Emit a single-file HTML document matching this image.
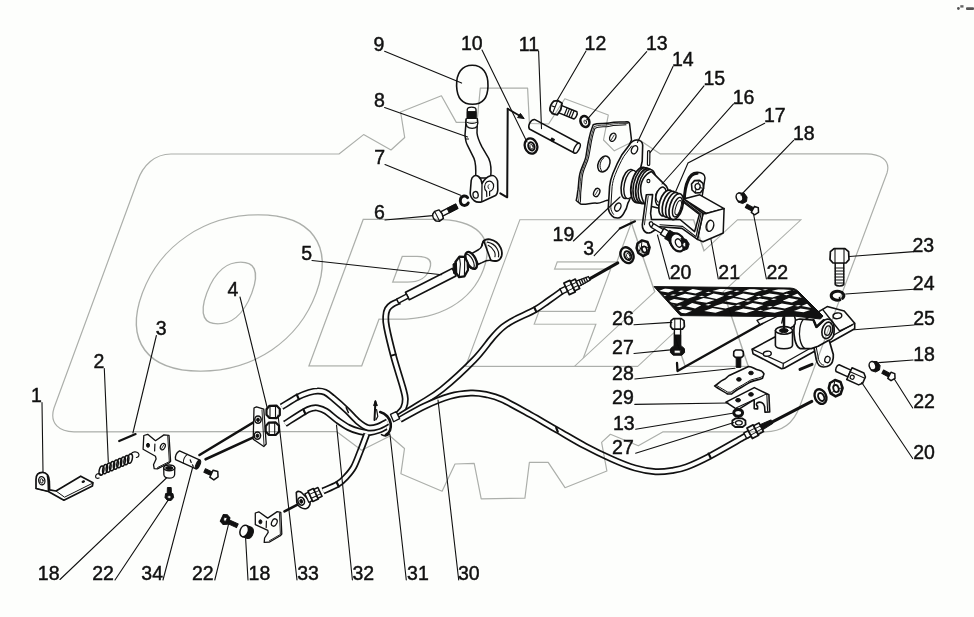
<!DOCTYPE html>
<html><head><meta charset="utf-8"><title>Parts diagram</title>
<style>
html,body{margin:0;padding:0;background:#fdfefc;}
svg{display:block;}
.t{font-family:"Liberation Sans",sans-serif;font-size:19.5px;fill:#111;stroke:#111;stroke-width:0.45px;}
.l{stroke:#111;stroke-width:1.1;fill:none;stroke-linecap:round;}
.p{stroke:#111;fill:#fdfefc;stroke-linejoin:round;stroke-linecap:round;}
.n{stroke:#111;fill:none;stroke-linejoin:round;stroke-linecap:round;}
.b{stroke:#111;stroke-width:1;fill:#111;stroke-linejoin:round;}
.to{stroke:#111;fill:none;stroke-linecap:butt;stroke-linejoin:round;}
.ti{stroke:#fdfefc;fill:none;stroke-linecap:butt;stroke-linejoin:round;}
.w{stroke:#aeb0ad;stroke-width:1.2;fill:none;stroke-linejoin:round;}
.wt{font-family:"DejaVu Sans","Liberation Sans",sans-serif;font-weight:bold;fill:none;}
</style></head><body>
<svg width="974" height="617" viewBox="0 0 974 617">
<rect width="974" height="617" fill="#fdfefc"/>
<g id="cables">
<path d="M284.9,423.8 C288.1,421.8 299.8,414.2 304.3,411.6 C308.8,409.0 309.8,408.9 312.0,408.3 C314.2,407.7 315.0,407.4 317.3,407.9 C319.6,408.4 322.7,409.2 326.0,411.3 C329.3,413.4 333.5,417.5 337.3,420.2 C341.1,422.9 344.8,425.6 348.6,427.5 C352.4,429.4 356.5,430.8 360.0,431.6 C363.5,432.4 366.5,432.7 369.7,432.4 C372.9,432.1 376.7,430.9 379.4,430.0 C382.1,429.1 384.9,427.2 386.0,426.7" class="to" stroke-width="7.0"/><path d="M284.9,423.8 C288.1,421.8 299.8,414.2 304.3,411.6 C308.8,409.0 309.8,408.9 312.0,408.3 C314.2,407.7 315.0,407.4 317.3,407.9 C319.6,408.4 322.7,409.2 326.0,411.3 C329.3,413.4 333.5,417.5 337.3,420.2 C341.1,422.9 344.8,425.6 348.6,427.5 C352.4,429.4 356.5,430.8 360.0,431.6 C363.5,432.4 366.5,432.7 369.7,432.4 C372.9,432.1 376.7,430.9 379.4,430.0 C382.1,429.1 384.9,427.2 386.0,426.7" class="ti" stroke-width="3.6"/>
<path d="M281.6,406.8 C284.3,405.2 293.2,399.4 297.8,397.0 C302.4,394.6 305.8,393.5 309.0,392.5 C312.2,391.5 314.6,390.9 317.3,390.9 C320.0,390.8 322.5,391.1 325.0,392.2 C327.5,393.3 328.7,394.4 332.4,397.5 C336.1,400.6 342.7,406.4 347.0,410.5 C351.3,414.6 354.8,419.0 358.3,421.9 C361.8,424.8 364.8,427.0 368.0,427.8 C371.2,428.6 374.6,427.7 377.8,426.7 C381.1,425.7 385.9,422.7 387.5,421.9" class="to" stroke-width="7.0"/><path d="M281.6,406.8 C284.3,405.2 293.2,399.4 297.8,397.0 C302.4,394.6 305.8,393.5 309.0,392.5 C312.2,391.5 314.6,390.9 317.3,390.9 C320.0,390.8 322.5,391.1 325.0,392.2 C327.5,393.3 328.7,394.4 332.4,397.5 C336.1,400.6 342.7,406.4 347.0,410.5 C351.3,414.6 354.8,419.0 358.3,421.9 C361.8,424.8 364.8,427.0 368.0,427.8 C371.2,428.6 374.6,427.7 377.8,426.7 C381.1,425.7 385.9,422.7 387.5,421.9" class="ti" stroke-width="3.6"/>
<path d="M366.8,434.0 C365.7,437.0 362.2,446.5 360.0,452.0 C357.8,457.5 356.0,462.8 353.7,467.0 C351.4,471.2 348.7,474.1 346.0,477.0 C343.3,479.9 341.4,482.0 337.6,484.3 C333.8,486.6 325.4,489.9 323.0,491.0" class="to" stroke-width="7.0"/><path d="M366.8,434.0 C365.7,437.0 362.2,446.5 360.0,452.0 C357.8,457.5 356.0,462.8 353.7,467.0 C351.4,471.2 348.7,474.1 346.0,477.0 C343.3,479.9 341.4,482.0 337.6,484.3 C333.8,486.6 325.4,489.9 323.0,491.0" class="ti" stroke-width="3.6"/>
<path d="M399.5,301.0 C398.2,301.6 394.0,303.2 392.0,304.5 C390.0,305.8 388.5,307.1 387.5,309.0 C386.5,310.9 385.9,313.0 385.8,316.0 C385.7,319.0 385.3,320.3 386.6,327.0 C387.9,333.7 390.9,346.2 393.6,356.4 C396.3,366.6 401.1,380.9 403.0,388.0 C404.9,395.1 405.2,395.7 405.3,399.0 C405.4,402.3 404.6,405.5 403.5,408.0 C402.4,410.5 399.3,413.0 398.5,414.0" class="to" stroke-width="7.0"/><path d="M399.5,301.0 C398.2,301.6 394.0,303.2 392.0,304.5 C390.0,305.8 388.5,307.1 387.5,309.0 C386.5,310.9 385.9,313.0 385.8,316.0 C385.7,319.0 385.3,320.3 386.6,327.0 C387.9,333.7 390.9,346.2 393.6,356.4 C396.3,366.6 401.1,380.9 403.0,388.0 C404.9,395.1 405.2,395.7 405.3,399.0 C405.4,402.3 404.6,405.5 403.5,408.0 C402.4,410.5 399.3,413.0 398.5,414.0" class="ti" stroke-width="3.6"/>
<path d="M398.5,417.0 C402.1,414.8 412.8,408.6 420.0,404.0 C427.2,399.4 433.0,396.7 442.0,389.4 C451.0,382.1 465.6,368.6 474.0,360.0 C482.4,351.4 487.7,343.1 492.5,337.6 C497.3,332.1 499.4,329.9 503.0,327.0 C506.6,324.1 508.6,322.9 514.0,320.0 C519.4,317.1 529.6,312.8 535.3,309.6 C541.0,306.4 543.5,304.1 548.0,301.0 C552.5,297.9 559.7,292.7 562.0,291.0" class="to" stroke-width="7.0"/><path d="M398.5,417.0 C402.1,414.8 412.8,408.6 420.0,404.0 C427.2,399.4 433.0,396.7 442.0,389.4 C451.0,382.1 465.6,368.6 474.0,360.0 C482.4,351.4 487.7,343.1 492.5,337.6 C497.3,332.1 499.4,329.9 503.0,327.0 C506.6,324.1 508.6,322.9 514.0,320.0 C519.4,317.1 529.6,312.8 535.3,309.6 C541.0,306.4 543.5,304.1 548.0,301.0 C552.5,297.9 559.7,292.7 562.0,291.0" class="ti" stroke-width="3.6"/>
<path d="M400.0,419.5 C404.2,417.2 416.7,409.9 425.0,406.0 C433.3,402.1 442.4,398.4 450.0,396.2 C457.6,394.0 464.8,393.3 470.8,393.0 C476.8,392.7 480.9,393.4 486.0,394.5 C491.1,395.6 494.3,396.0 501.6,399.3 C508.9,402.6 520.8,409.4 530.0,414.5 C539.2,419.6 547.8,424.8 557.0,430.0 C566.2,435.2 575.8,441.1 585.0,446.0 C594.2,450.9 604.2,455.7 612.5,459.4 C620.8,463.1 627.8,465.9 635.0,468.0 C642.2,470.1 649.4,471.3 655.6,471.7 C661.8,472.1 666.9,471.3 672.0,470.5 C677.1,469.7 680.1,469.4 686.4,467.0 C692.6,464.6 700.1,461.2 709.5,456.3 C718.9,451.4 735.4,441.8 742.5,437.8 C749.6,433.8 750.4,433.4 752.0,432.5" class="to" stroke-width="7.0"/><path d="M400.0,419.5 C404.2,417.2 416.7,409.9 425.0,406.0 C433.3,402.1 442.4,398.4 450.0,396.2 C457.6,394.0 464.8,393.3 470.8,393.0 C476.8,392.7 480.9,393.4 486.0,394.5 C491.1,395.6 494.3,396.0 501.6,399.3 C508.9,402.6 520.8,409.4 530.0,414.5 C539.2,419.6 547.8,424.8 557.0,430.0 C566.2,435.2 575.8,441.1 585.0,446.0 C594.2,450.9 604.2,455.7 612.5,459.4 C620.8,463.1 627.8,465.9 635.0,468.0 C642.2,470.1 649.4,471.3 655.6,471.7 C661.8,472.1 666.9,471.3 672.0,470.5 C677.1,469.7 680.1,469.4 686.4,467.0 C692.6,464.6 700.1,461.2 709.5,456.3 C718.9,451.4 735.4,441.8 742.5,437.8 C749.6,433.8 750.4,433.4 752.0,432.5" class="ti" stroke-width="3.6"/>
</g>
<g id="parts">
<path d="M36,488.5 L36,479.5 C36,474.5 39,472.3 42.5,472.3 C46.5,472.3 49.3,476 49.3,481 L49.6,489.8 L56,491 L80.7,476.2 L93,482.7 L92.4,486 L63.9,500.2 L48.3,491.5 Z" class="p" stroke-width="1.70"/>
<path d="M47.6,476 C48.3,478 48.5,482 48.6,490.5" class="n" stroke-width="2.00"/>
<path d="M56,491 L64.5,497.2 L92.6,483.2" class="n" stroke-width="1.00"/>
<path d="M36,488.5 L48.3,491.5" class="n" stroke-width="1.00"/>
<ellipse cx="41.8" cy="480.7" rx="3.1" ry="4.1" class="p" transform="rotate(-10 41.8 480.7)"  stroke-width="1.30"/>
<ellipse cx="41.6" cy="480.9" rx="1.5" ry="2.3" class="n" transform="rotate(-10 41.6 480.9)" stroke-width="0.90"/>
<ellipse cx="83.3" cy="481.6" rx="1.3" ry="0.8" class="b" transform="rotate(-20 83.3 481.6)" />
<ellipse cx="101.5" cy="470.6" rx="2.3" ry="4.7" class="n" transform="rotate(12 101.5 470.6)" stroke-width="1.50"/>
<ellipse cx="105.1" cy="469.1" rx="2.3" ry="4.7" class="n" transform="rotate(12 105.1 469.1)" stroke-width="1.50"/>
<ellipse cx="108.6" cy="467.6" rx="2.3" ry="4.7" class="n" transform="rotate(12 108.6 467.6)" stroke-width="1.50"/>
<ellipse cx="112.2" cy="466.1" rx="2.3" ry="4.7" class="n" transform="rotate(12 112.2 466.1)" stroke-width="1.50"/>
<ellipse cx="115.8" cy="464.6" rx="2.3" ry="4.7" class="n" transform="rotate(12 115.8 464.6)" stroke-width="1.50"/>
<ellipse cx="119.3" cy="463.1" rx="2.3" ry="4.7" class="n" transform="rotate(12 119.3 463.1)" stroke-width="1.50"/>
<ellipse cx="122.9" cy="461.6" rx="2.3" ry="4.7" class="n" transform="rotate(12 122.9 461.6)" stroke-width="1.50"/>
<ellipse cx="126.4" cy="460.1" rx="2.3" ry="4.7" class="n" transform="rotate(12 126.4 460.1)" stroke-width="1.50"/>
<ellipse cx="130.0" cy="458.6" rx="2.3" ry="4.7" class="n" transform="rotate(12 130.0 458.6)" stroke-width="1.50"/>
<path d="M101,474.5 C98,472.5 95.3,474.5 95.6,476.8 C96,478.5 97.8,478.6 99,478" class="n" stroke-width="1.20"/>
<path d="M131,454 C132.5,451.5 136.5,451 138.3,453.2 C139.8,455.2 138.6,457.2 136.4,457.5" class="n" stroke-width="1.20"/>
<line x1="119.2" y1="441.1" x2="135.6" y2="434.1" stroke="#111" stroke-width="2.2" stroke-linecap="round" />
<path d="M143.8,435.5 L147.7,434.3 L155.5,440.7 L163.9,434.9 L169,435.3 L170.6,461.3 L169,463 L157.4,468.8 L154.2,468.6 L153.5,464.7 L156.1,458.9 L155.5,456.3 L143.1,449.2 Z" class="p"  stroke-width="1.30"/>
<path d="M167.7,436 L169.3,461.6 L157.6,467.5" class="n" stroke-width="0.90"/>
<line x1="154.9" y1="444" x2="154.6" y2="451" stroke="#111" stroke-width="1.2" stroke-linecap="round" />
<ellipse cx="148" cy="445.3" rx="1.5" ry="2" class="b" />
<ellipse cx="162.8" cy="446.6" rx="2.3" ry="3.4" class="n" transform="rotate(25 162.8 446.6)" stroke-width="1.20"/>
<line x1="161.6" y1="448.6" x2="164" y2="444.6" stroke="#111" stroke-width="0.8" stroke-linecap="round" />
<path d="M163.7,467.8 L163.9,475 C164.5,479 173.8,479.2 174.6,475 L174.8,467.8 Z" class="p"  stroke-width="1.30"/>
<ellipse cx="169.2" cy="467.8" rx="5.5" ry="2.9" class="p" stroke-width="1.50"/>
<ellipse cx="169.2" cy="468" rx="3.6" ry="1.5" class="b" />
<path d="M167.4,487.5 L171.2,487.5 L171.4,494 L167.2,494 Z" class="b" />
<path d="M165.6,493.6 L172.9,493.6 L173.6,497.5 L171.2,500.4 L167.4,500.4 L165,497.5 Z" class="b" />
<ellipse cx="169.3" cy="497" rx="1.8" ry="1.3" class="p" stroke-width="0.60"/>
<g transform="rotate(24.4 188 460)">
<path d="M176.5,455.2 L199,455.2 L199,464.8 L176.5,464.8 C174.6,462 174.6,458 176.5,455.2 Z" class="p"  stroke-width="1.30"/>
<ellipse cx="199" cy="460" rx="1.9" ry="4.8" class="b" />
<path d="M185,455.2 C183.6,458 183.6,462 185,464.8" class="n" stroke-width="1.00"/>
<path d="M190,459 L192,461 M194,462.5 L195.4,463.6" class="n" stroke-width="1.20"/>
</g>
<line x1="199.5" y1="455" x2="256" y2="420.8" stroke="#111" stroke-width="2.6" stroke-linecap="round" />
<line x1="205.6" y1="459.3" x2="255.5" y2="436.4" stroke="#111" stroke-width="2.6" stroke-linecap="round" />
<g transform="rotate(25 211 473.5)">
<path d="M204,471.6 L212,471.6 L212,475.4 L204,475.4 Z" class="b" />
<path d="M211.5,469.6 L216.3,468.9 L218.8,473.5 L216.3,478.1 L211.5,477.4 Z" class="p" stroke-width="1.50"/>
</g>
<path d="M254,408 L256.5,406.8 L263.8,409.2 L266.2,444 L263.8,446.5 L253.2,439.2 Z" class="p"  stroke-width="1.30"/>
<path d="M262,410 L264,445" class="n" stroke-width="0.90"/>
<ellipse cx="258" cy="419.6" rx="3.2" ry="3.6" class="p" stroke-width="1.50"/>
<ellipse cx="258" cy="419.8" rx="1.4" ry="1.7" class="b" />
<ellipse cx="257.4" cy="435.6" rx="3.2" ry="3.6" class="p" stroke-width="1.50"/>
<ellipse cx="257.4" cy="435.8" rx="1.4" ry="1.7" class="b" />
<path d="M266.5,409.3 L269.5,405.8 L276.5,405.6 L279.8,409.0 L279.8,415.0 L276.5,418.2 L269.5,418.0 L266.5,414.8 Z" class="p" stroke-width="2.20"/>
<path d="M270,406.3 L270,417.6 M275.5,406.0 L275.5,417.8" class="n" stroke-width="1.10"/>
<path d="M265.7,426.1 L268.7,422.6 L275.7,422.40000000000003 L279.0,425.8 L279.0,431.8 L275.7,435.0 L268.7,434.8 L265.7,431.6 Z" class="p" stroke-width="2.20"/>
<path d="M269.2,423.1 L269.2,434.40000000000003 M274.7,422.8 L274.7,434.6" class="n" stroke-width="1.10"/>
<path d="M255.3,513 L258.8,511.8 L267.7,518.1 L277.2,511.6 L280.8,512.3 L281.8,534 L280.3,535.8 L269.2,542.2 L264.2,542.4 L264.6,538 L268.2,532.4 L267.8,530.4 L255.3,524.7 Z" class="p"  stroke-width="1.30"/>
<path d="M279.4,513 L280.4,534.4 L269.4,540.8" class="n" stroke-width="0.90"/>
<line x1="266.4" y1="521" x2="266.2" y2="527.6" stroke="#111" stroke-width="1.2" stroke-linecap="round" />
<ellipse cx="260.4" cy="521.8" rx="1.5" ry="2" class="b" />
<ellipse cx="274.3" cy="522.5" rx="2.6" ry="3.8" class="n" transform="rotate(25 274.3 522.5)" stroke-width="1.30"/>
<g transform="rotate(20 247 532)">
<path d="M244,526 L249.5,526 C254.5,527 254.5,537 249.5,538 L244,538 Z" class="b" />
<ellipse cx="244" cy="532" rx="4" ry="6" class="p" stroke-width="1.50"/>
</g>
<g transform="rotate(25 228 521)">
<path d="M227,519.4 L238.5,519.4 L238.5,523.4 L227,523.4 Z" class="b" />
<path d="M221,517.2 L224.5,515.6 L228.5,517.4 L229,524 L225,526.2 L221,524.4 Z" class="b" />
<ellipse cx="224.8" cy="520.6" rx="1.6" ry="2" class="p" stroke-width="0.80"/>
</g>
<line x1="284.5" y1="511.4" x2="298" y2="504.4" stroke="#111" stroke-width="2.6" stroke-linecap="round" />
<path d="M296.3,492.5 C298,490.6 300.5,491.5 302,493 L309.5,500.5 C311,503.5 309.5,507.5 306.5,508.5 C302.5,509.5 298,506.5 296.8,502.5 Z" class="p" stroke-width="1.60"/>
<ellipse cx="301.2" cy="501.2" rx="3.2" ry="4" class="p" transform="rotate(-20 301.2 501.2)" stroke-width="1.60"/>
<ellipse cx="301.2" cy="501.4" rx="1.3" ry="1.8" class="b" transform="rotate(-20 301.2 501.4)" />
<g transform="rotate(-25 314 494.5)">
<path d="M306,490 L310,490 L310,499.4 L306,499.4 Z" class="p" stroke-width="1.40"/>
<path d="M310,488.8 L316,488.8 L316,500.4 L310,500.4 Z" class="p" stroke-width="1.60"/>
<path d="M316,489.8 L320.5,489.8 L320.5,499.6 L316,499.6 Z" class="p" stroke-width="1.60"/>
<path d="M310,492.5 L316,492.5 M310,496.8 L316,496.8 M316,493 L320.5,493 M316,496.6 L320.5,496.6" class="n" stroke-width="0.90"/>
</g>
<path d="M456.6,86 C456.2,73 462,65.3 472.2,65.3 C482.5,65.3 488.3,73 488,86 C487.8,98 483.5,104.3 472.5,104.3 C461.5,104.3 457,98 456.6,86 Z" class="p" stroke-width="1.60"/>
<path d="M466.3,119 L465,135 C465.5,141 466.5,143.5 467.3,144.8 L474,158.4 C475.5,162 476.3,166 475.6,178 L490.6,178 C491.5,170 490.8,163 488.7,158.4 L481.8,146.7 C479,141 477.4,137 477,133 L477.3,119 Z" class="p" stroke-width="1.50"/>
<path d="M467.3,118.6 L467.3,109.5 C467.5,106.3 475.8,106.3 476,109.5 L476,118.6 Z" class="p" stroke-width="1.40"/>
<path d="M467.3,111.6 L476,111.6 L476,118.4 L467.3,118.4 Z" class="b" />
<path d="M466.2,119 C465.6,122 466,125 467,126.5 C469.5,129 475,129 477,126.5 C478,124.5 478,121.5 477.4,119" class="p" stroke-width="1.40"/>
<path d="M467.3,122.5 C470,124 474,124 476.6,122.5" class="n" stroke-width="0.90"/>
<line x1="466.2" y1="139" x2="468.6" y2="139" stroke="#111" stroke-width="1" stroke-linecap="round" />
<path d="M471.2,180.5 C471.8,176.5 475,174.2 478.5,176.5 C480.5,178 481.5,180.5 482,183.5 C484,180 487,176.8 490.5,175.8 C493.5,175 496.5,177 497.6,181 L497.8,190 C497.5,193.5 496.5,195 495.5,195.6 L482.5,201.4 C479.5,202.6 476.5,202.4 474,200.5 C471.3,198.2 470.2,195.5 470.2,193 Z" class="p" stroke-width="1.60"/>
<path d="M482,183.5 L481.8,201.2" class="n" stroke-width="1.30"/>
<ellipse cx="475.6" cy="194.8" rx="2.6" ry="3.3" class="n" transform="rotate(-10 475.6 194.8)" stroke-width="1.30"/>
<path d="M486.8,196.5 L486.6,191.5 C483.8,189.5 483.8,184 487,181.8 C490.5,179.8 494,182.5 493.6,186.5 C493.2,189.5 491,191 489.6,191.3 L489.6,195.6" class="n" stroke-width="1.20"/>
<path d="M489,184.5 C487.5,185.5 487.5,188 489,189" class="n" stroke-width="0.90"/>
<path d="M467.6,197.6 C465.8,195 461.8,195.4 460.6,198.8 C459.4,202.4 461.4,205.4 464.4,205.4 C466.2,205.4 467.6,204.4 468.2,203" class="n" stroke-width="3.00"/>
<g transform="rotate(-27 438 215.8)">
<path d="M442,213.4 L459,213.4 L459,218.2 L442,218.2 Z" class="p" stroke-width="1.30"/>
<path d="M449.5,213.4 L459,213.4 L459,218.2 L449.5,218.2 Z" class="b" />
<path d="M434,212 L437,210.3 L441.6,211 L442.6,215.8 L441.6,220.6 L437,221.3 L434,219.6 C432.6,217.5 432.6,214 434,212 Z" class="p" stroke-width="1.50"/>
<path d="M437,210.5 L437,221.2" class="n" stroke-width="1.00"/>
</g>
<path d="M500.3,193.3 L507.2,197.3 L507.7,108.8" class="n" stroke-width="2.00"/>
<path d="M507.7,108.8 L520.5,116.3" class="n" stroke-width="1.80"/>
<path d="M524.2,118.6 L517.6,117.6 L520.4,113.4 Z" class="b" />
<ellipse cx="531" cy="146" rx="6.2" ry="7.8" class="p" transform="rotate(-20 531 146)" stroke-width="2.30"/>
<ellipse cx="531.4" cy="146.4" rx="3" ry="4.2" class="p" transform="rotate(-20 531.4 146.4)" stroke-width="2.00"/>
<ellipse cx="531.6" cy="146.8" rx="1.5" ry="2.4" class="n" transform="rotate(-20 531.6 146.8)" stroke-width="0.80" stroke="#777"/>
<g transform="rotate(28.1 554 136)">
<path d="M529,130.6 L580,130.6 L580,141.4 L529,141.4 C525.6,139.5 525.6,132.5 529,130.6 Z" class="p" stroke-width="1.50"/>
<ellipse cx="580" cy="136" rx="2.4" ry="5.4" class="p" stroke-width="1.40"/>
<path d="M553,138.8 L556,138.8 L556,141.4 L553,141.4 Z" class="b" />
</g>
<g transform="rotate(22 556 107.5)">
<path d="M560,103.6 L577,103.6 C578.6,105 578.6,110 577,111.4 L560,111.4 Z" class="p" stroke-width="1.50"/>
<path d="M566.5,104 L566.5,111 M569,104 L569,111 M571.5,104 L571.5,111 M574,104 L574,111" class="n" stroke-width="1.20"/>
<path d="M551.5,102.5 L555,100.4 L560,101.2 L561.2,107.5 L560,113.8 L555,114.6 L551.5,112.5 C550,110 550,105 551.5,102.5 Z" class="p" stroke-width="1.80"/>
<path d="M555,100.8 L555,114.4 M551.8,107.5 L555,107.5" class="n" stroke-width="1.10"/>
</g>
<ellipse cx="584.9" cy="121.5" rx="4.3" ry="5.6" class="p" transform="rotate(-20 584.9 121.5)" stroke-width="2.60"/>
<ellipse cx="585.3" cy="122" rx="1.2" ry="2" class="n" transform="rotate(-20 585.3 122)" stroke-width="0.80"/>
<path d="M593.2,124.8 C598,122.5 604,124.2 609.2,123 C616,121.4 622,122.6 627,121.8 C629,122 629.7,123.4 629.7,124.8 L631.5,140 L628.8,146 L609,200 L606.5,200.4 C602,202 599,203.6 596.7,203.2 C591,202.6 586,205 580.7,204.1 L576.2,200.5 C577.6,196 577.2,193 578,189.9 C578.8,184 578.6,179 579.8,173.8 C581.5,167 585,162 586,156 C587,150 587.6,145 588.7,140 C589.8,134 591.5,129 593.2,124.8 Z" class="p" stroke-width="1.50"/>
<path d="M626,124.8 C620,125.8 615,124.6 609.5,126.2 C604,127.4 599,126 595,128.4 C593.5,132 592.3,137 591.4,141.7 C590.4,147 589.8,152 588.7,156.9 C587.6,162.5 584,168 582.8,173.8 C581.6,179 581.8,184.5 581,189.9 C580.4,194 580.8,198 580.3,202.3" class="n" stroke-width="1.10"/>
<path d="M627.6,123.4 C621,124 615.5,123 609.4,124.6 C604,125.8 598.6,124.4 594.2,126.6 C592.5,131 591.2,136 590.1,141 C589.1,146.5 588.6,151.5 587.4,156.6 C586.3,162 582.8,167.5 581.4,173.8 C580.2,179 580.4,184.2 579.6,189.9 C579,194 579.4,197.6 578.4,201.6" class="n" stroke-width="0.80"/>
<ellipse cx="612.8" cy="137.3" rx="2.9" ry="4.3" class="n" transform="rotate(25 612.8 137.3)" stroke-width="1.40"/>
<line x1="611.4" y1="139.6" x2="614.2" y2="135" stroke="#111" stroke-width="0.8" stroke-linecap="round" />
<ellipse cx="603.9" cy="164" rx="5.6" ry="8.3" class="n" transform="rotate(25 603.9 164)" stroke-width="1.50"/>
<path d="M601.6,170.6 C598.6,167 600,160.5 604,157.6" class="n" stroke-width="1.00"/>
<ellipse cx="596.7" cy="192.5" rx="2.8" ry="4.3" class="n" transform="rotate(25 596.7 192.5)" stroke-width="1.40"/>
<line x1="595.4" y1="194.6" x2="598" y2="190.2" stroke="#111" stroke-width="0.8" stroke-linecap="round" />
<path d="M629.7,144.4 C631.5,141.5 634,140 636.8,140 C640,140 642.5,142 642.7,145 L642.2,161.3 L640.4,169 L629,201 L627.9,203.2 C627,207.5 626,210 624.4,212.1 C622.5,216 620.5,218 618.1,218 C615,218.2 613,217.2 611.9,215.7 C609.5,213.2 608.4,210.5 608.3,207.7 L609.6,186.3 C610.2,181.8 611.3,177.5 612.8,173.8 C615.5,167 618.5,160.5 621.7,155.1 Z" class="p" stroke-width="1.60"/>
<path d="M631.6,146 L623.8,156.4 C620.6,162 617.8,168 615.2,174.6 C613.6,178.5 612.6,182.5 612.1,186.6 L610.8,207.4 C610.9,210 611.8,212.3 613.6,214.4" class="n" stroke-width="1.00"/>
<ellipse cx="634.5" cy="149.8" rx="2.9" ry="4.3" class="n" transform="rotate(25 634.5 149.8)" stroke-width="1.40"/>
<ellipse cx="617.8" cy="207.1" rx="2.9" ry="4.3" class="n" transform="rotate(25 617.8 207.1)" stroke-width="1.40"/>
<path d="M647.6,151.6 C647.6,150.2 649.9,150.2 649.9,151.6 L649.7,164.4 C649.7,165.8 647.4,165.8 647.4,164.4 Z" class="p" stroke-width="1.20"/>
<ellipse cx="628" cy="184" rx="6.4" ry="14.8" class="p" transform="rotate(12 628 184)" stroke-width="1.60"/>
<ellipse cx="630.6" cy="184.5" rx="6.2" ry="14.4" class="p" transform="rotate(12 630.6 184.5)" stroke-width="1.40"/>
<ellipse cx="640" cy="185" rx="8.6" ry="18" class="p" transform="rotate(12 640 185)" stroke-width="1.80"/>
<ellipse cx="642.2" cy="185.4" rx="8.6" ry="18" class="p" transform="rotate(12 642.2 185.4)" stroke-width="1.50"/>
<ellipse cx="644.8" cy="186" rx="8.6" ry="17.8" class="p" transform="rotate(12 644.8 186)" stroke-width="1.80"/>
<ellipse cx="647" cy="186.5" rx="8.4" ry="17.4" class="p" transform="rotate(12 647 186.5)" stroke-width="1.50"/>
<path d="M651.4,171.4 C645,174 639.4,182 640.8,192 C641.6,198 643,202 645.4,205 L660,208.5 L666,202.5 C669,197 669,189.5 666.3,186.1 Z" class="p" stroke-width="1.60"/>
<ellipse cx="660.8" cy="196.2" rx="4.8" ry="9.4" class="p" transform="rotate(17 660.8 196.2)" stroke-width="1.50"/>
<path d="M658.2,202.2 C655,199.5 655,194 657.4,191" class="n" stroke-width="1.10"/>
<ellipse cx="648.4" cy="181.1" rx="1.5" ry="1.7" class="n" stroke-width="1.10"/>
<path d="M683.6,199 C684,191 685,185 686.9,181 C689,175.5 693,172 697.4,172.2 C702,172.4 705.2,174.5 705,178 L702.3,195.5 Z" class="p" stroke-width="1.50"/>
<path d="M684.6,199 C685,191 686.2,185.5 688,181.5 C690,176.5 693.5,173.6 697.4,173.6" class="n" stroke-width="2.40"/>
<path d="M691.5,184 L694.5,180.6 L699.5,180.4 L703,183.4 L703.6,188.6 L700.6,192.6 L695.4,193 L692,190 Z" class="p" stroke-width="1.60"/>
<ellipse cx="697.6" cy="186.6" rx="2.6" ry="3" class="p" stroke-width="1.30"/>
<path d="M697.6,183.6 L699.6,180.6 M700,187.6 L703.4,188.4 M696,189.4 L695.4,192.8" class="n" stroke-width="1.00"/>
<path d="M683.6,198.9 L699.8,194.8 L724.1,208.6 L706.3,213.5 Z" class="p" stroke-width="1.50"/>
<path d="M706.3,213.5 L724.1,208.6 L723.2,233 L719.3,234.8 L703,241.8 L697.4,239.4 L703,213.5 Z" class="p" stroke-width="1.50"/>
<ellipse cx="709.9" cy="225.8" rx="3.7" ry="5.6" class="p" transform="rotate(15 709.9 225.8)" stroke-width="1.40"/>
<path d="M707.6,229.6 C706,226.5 707,222.5 709.6,220.6" class="n" stroke-width="0.90"/>
<path d="M683.6,198.9 L703,213.5 L697.4,239.4 L682,228.4 L660,226.8 L651,232.5 C648,233.5 645,232.5 643.6,230 C642.4,228 642.2,226.5 642.3,224.8 L646.3,194.8 L652.6,194.6 L650.6,213.5 L651.5,219.5 L680,219.5 L694.6,231.6 L699.4,214.4 L681.5,200.6 Z" class="p" stroke-width="1.60"/>
<path d="M684.2,201.2 L701,214.2 L696,236.6 L682.6,226.4 L660,224.8" class="n" stroke-width="1.10"/>
<path d="M644.4,224.8 L648.2,196.4" class="n" stroke-width="0.90"/>
<path d="M706.3,213.5 L703,213.5" class="n"  stroke-width="1.30"/>
<ellipse cx="666" cy="203" rx="6.4" ry="13.4" class="p" transform="rotate(17 666 203)" stroke-width="1.70"/>
<ellipse cx="669.4" cy="204.2" rx="6.4" ry="13.4" class="p" transform="rotate(17 669.4 204.2)" stroke-width="1.70"/>
<ellipse cx="672.8" cy="205.4" rx="6.4" ry="13.4" class="p" transform="rotate(17 672.8 205.4)" stroke-width="1.70"/>
<ellipse cx="676.2" cy="206.6" rx="6.4" ry="13.4" class="p" transform="rotate(17 676.2 206.6)" stroke-width="1.70"/>
<ellipse cx="677.4" cy="207.2" rx="4.2" ry="10.2" class="p" transform="rotate(17 677.4 207.2)" stroke-width="1.40"/>
<ellipse cx="678.2" cy="207.6" rx="2.4" ry="7.4" class="n" transform="rotate(17 678.2 207.6)" stroke-width="1.00"/>
<ellipse cx="651.4" cy="224.4" rx="1.9" ry="2.8" class="p" transform="rotate(-20 651.4 224.4)" stroke-width="1.30"/>
<g transform="rotate(31 652 225)">
<path d="M652.6,223 L666,223 L666,227.4 L652.6,227.4 Z" class="p" stroke-width="1.30"/>
<path d="M664,221.8 L670,221.8 L670,228.6 L664,228.6 Z" class="p" stroke-width="1.40"/>
<path d="M670,220.4 L677,220.4 L677,230 L670,230 Z" class="b" />
</g>
<ellipse cx="674.6" cy="240.6" rx="5.6" ry="8.6" class="b" transform="rotate(-25 674.6 240.6)" />
<ellipse cx="677.6" cy="242.4" rx="6.8" ry="9.4" class="p" transform="rotate(-25 677.6 242.4)" stroke-width="2.20"/>
<ellipse cx="678.6" cy="243" rx="3" ry="4.4" class="p" transform="rotate(-25 678.6 243)" stroke-width="1.40"/>
<path d="M681,238 L686.4,239.6 L689.2,244 L687.6,249 L683.4,250.6 Z" class="b" />
<ellipse cx="684.4" cy="244.6" rx="1.6" ry="2.2" class="p" stroke-width="0.80"/>
<line x1="619.8" y1="228.4" x2="635" y2="221.3" stroke="#111" stroke-width="2.2" stroke-linecap="round" />
<path d="M637.5,243.5 L642,240.4 L647.5,242 L649.6,247.5 L648,253.6 L643,256 L638.4,253 L636.6,248 Z" class="p" stroke-width="2.50"/>
<path d="M642,240.6 L641.4,246.6 L638.4,252.8 M641.4,246.6 L649.4,247.6" class="n" stroke-width="1.00"/>
<ellipse cx="644.4" cy="249.6" rx="2.4" ry="3.2" class="p" transform="rotate(-20 644.4 249.6)" stroke-width="1.80"/>
<ellipse cx="627" cy="255.2" rx="6.2" ry="8.2" class="p" transform="rotate(-25 627 255.2)" stroke-width="2.40"/>
<ellipse cx="627.8" cy="255.6" rx="3.2" ry="4.6" class="p" transform="rotate(-25 627.8 255.6)" stroke-width="2.00"/>
<ellipse cx="628.2" cy="256" rx="1.6" ry="2.8" class="n" transform="rotate(-25 628.2 256)" stroke-width="0.80" stroke="#666"/>
<path d="M738.3,192.9 L744.1,193.1 L747.1,197.1 L746.5,201.5 L742.7,203.5 L738.1,202.1 Z" class="b" />
<ellipse cx="739.5" cy="197.3" rx="3.3" ry="4.3" class="p" transform="rotate(-15 739.5 197.3)" stroke-width="1.50"/>
<g transform="rotate(28 755 210.5)">
<path d="M745,208.6 L753,208.6 L753,212.4 L745,212.4 Z" class="b" />
<path d="M752.6,207.1 L756.6,206.5 L759,210.5 L756.6,214.5 L752.6,213.9 Z" class="p" stroke-width="1.50"/>
</g>
<path d="M752.1,349.2 L775.3,336.7 L822.6,309.4 L827.2,306.6 L844.2,311.1 L854.7,323.3 L854.7,328.7 L784.2,368.2 L781.6,368.8 L753,353.7 Z" class="p" stroke-width="1.60"/>
<path d="M752.1,349.2 L783.3,363.5 L854.7,323.3 M783.3,363.5 L783,368.4" class="n" stroke-width="1.30"/>
<path d="M822.6,309.4 L832.9,322.5 L839.7,331 M839.7,331 L852,325.2" class="n" stroke-width="1.40"/>
<ellipse cx="767.3" cy="353.7" rx="4" ry="2.5" class="p" transform="rotate(-8 767.3 353.7)" stroke-width="1.40"/>
<ellipse cx="837.4" cy="315.8" rx="4.4" ry="2.8" class="p" transform="rotate(-8 837.4 315.8)" stroke-width="1.40"/>
<path d="M813.7,346 L816.3,359.9 C817.5,364.5 820.5,367.2 823.8,367 C828,366.6 831.5,364.5 832.4,361.7 C833.3,359 833.5,356.5 833.3,354.6 L828.8,339 Z" class="p" stroke-width="1.70"/>
<path d="M816.2,347 L818.6,359.6 C819.6,363 821.6,365 823.8,365.2" class="n" stroke-width="1.00"/>
<ellipse cx="827.4" cy="359.5" rx="2.6" ry="3.2" class="p" transform="rotate(20 827.4 359.5)" stroke-width="1.30"/>
<path d="M677,363 L677.5,371 L787,309.4" class="n" stroke-width="2.30"/>
<path d="M757,320.4 L778.6,311.4 L781.5,314.4 L760,324.6 Z" class="p" stroke-width="1.30"/>
<path d="M800,319 C797,319.6 795.6,320 795.4,320.4 C793.6,326 793.6,333.5 794.8,339.5 C795.8,344 797.6,347.4 800,348.6 L811.3,348.6 L818.1,346.3 L828.3,340.6 C831.5,339.8 834,336.5 834,332.7 C834.4,328 833.8,324.5 832.9,322.5 C831.5,320 829.5,319 827.5,319 L823.8,320.2 L816.4,327 L813.6,320.2 Z" class="p" stroke-width="1.70"/>
<path d="M803.2,319.6 C800,323 798.6,332 800,339.5 C801,344 802.6,347 804.6,348.4" class="n" stroke-width="1.30"/>
<ellipse cx="827.3" cy="330.4" rx="5.2" ry="8.4" class="p" transform="rotate(15 827.3 330.4)" stroke-width="1.60"/>
<ellipse cx="827.7" cy="330.6" rx="2.8" ry="4.8" class="p" transform="rotate(15 827.7 330.6)" stroke-width="1.30"/>
<path d="M813.6,320.2 L816.4,327 L823.8,320.2" class="n" stroke-width="2.40"/>
<path d="M781.8,323 C782.5,317 785.5,311.5 789.2,310.5 C792,310.2 794.5,314.5 795.4,319.6 L795,324" class="p" stroke-width="1.50"/>
<path d="M775.4,330.4 L775.4,345.4 C776.2,349.8 791.7,349.8 792.5,345.4 L792.5,330.4 Z" class="p" stroke-width="1.60"/>
<ellipse cx="784" cy="330.4" rx="8.5" ry="3.8" class="p" stroke-width="1.60"/>
<ellipse cx="783.8" cy="330.6" rx="4.4" ry="2" class="b" />
<line x1="784" y1="330" x2="784.1" y2="313.4" stroke="#111" stroke-width="2.4" stroke-linecap="round" />
<line x1="800" y1="369.4" x2="812" y2="364.4" stroke="#111" stroke-width="3" stroke-linecap="round" />
<clipPath id="pc"><path d="M657,288.4 L790,289.6 C793,289.8 795,290.8 796.5,292.6 L817.5,314.8 L682,313.6 Z"/></clipPath>
<path d="M654,286.6 L790,288 C794,288.2 797,289.6 799,292 L823,316 L820.4,319 L795.4,316.2 L766.6,316.4 L680.3,315.6 Z" class="b" stroke-width="1.6"/>
<path d="M629.0,290.9 L635.5,288.1 L645.1,289.9 L638.5,292.6 Z M648.0,289.6 L651.0,288.6 L654.0,289.1 L651.0,290.0 Z M659.1,290.9 L665.3,288.3 L674.4,289.9 L668.3,292.4 Z M678.0,291.5 L681.0,290.5 L684.0,291.0 L681.0,291.9 Z M686.0,291.7 L692.7,289.0 L702.5,290.7 L695.7,293.5 Z M705.3,292.7 L708.3,291.7 L711.3,292.2 L708.3,293.1 Z M712.4,290.9 L721.4,288.5 L733.4,289.9 L724.4,292.4 Z M733.7,291.5 L736.7,290.5 L739.7,291.0 L736.7,291.9 Z M742.9,291.2 L751.0,288.4 L762.0,290.2 L754.0,292.9 Z M762.2,289.9 L765.2,288.9 L768.2,289.4 L765.2,290.3 Z M771.7,291.1 L780.1,288.5 L791.5,290.1 L783.1,292.7 Z M792.9,290.4 L795.9,289.4 L798.9,289.9 L795.9,290.8 Z M803.0,291.4 L811.4,289.0 L822.9,290.4 L814.4,292.8 Z M825.9,291.7 L828.9,290.7 L831.9,291.2 L828.9,292.1 Z M650.8,296.6 L657.2,293.8 L666.7,295.6 L660.2,298.3 Z M670.2,295.3 L673.2,294.3 L676.2,294.8 L673.2,295.7 Z M676.3,296.7 L685.0,293.8 L696.7,295.7 L688.0,298.6 Z M698.8,296.7 L701.8,295.7 L704.8,296.2 L701.8,297.1 Z M706.1,296.7 L713.6,293.6 L724.2,295.7 L716.6,298.9 Z M727.3,295.5 L730.3,294.5 L733.3,295.0 L730.3,295.9 Z M734.9,296.6 L743.1,293.4 L754.4,295.6 L746.1,298.9 Z M755.7,296.8 L758.7,295.8 L761.7,296.3 L758.7,297.2 Z M761.8,295.9 L769.4,293.4 L780.0,294.9 L772.4,297.4 Z M783.5,294.8 L786.5,293.8 L789.5,294.3 L786.5,295.2 Z M791.9,295.9 L799.3,292.7 L809.7,294.9 L802.3,298.0 Z M812.5,296.6 L815.5,295.6 L818.5,296.1 L815.5,297.0 Z M821.6,296.2 L830.6,293.6 L842.6,295.2 L833.6,297.8 Z M845.1,297.1 L848.1,296.1 L851.1,296.6 L848.1,297.5 Z M637.3,301.3 L644.1,298.7 L653.9,300.3 L647.1,302.9 Z M656.2,299.9 L659.2,298.9 L662.2,299.4 L659.2,300.3 Z M666.8,301.8 L674.1,298.9 L684.4,300.8 L677.1,303.6 Z M695.3,300.9 L703.5,297.9 L714.6,299.9 L706.5,302.8 Z M724.5,301.2 L733.5,298.1 L745.6,300.2 L736.5,303.3 Z M744.9,301.3 L747.9,300.3 L750.9,300.8 L747.9,301.7 Z M753.4,301.0 L759.7,298.4 L768.9,300.0 L762.7,302.5 Z M770.9,299.6 L773.9,298.6 L776.9,299.1 L773.9,300.0 Z M782.7,300.8 L789.0,298.1 L798.4,299.8 L792.0,302.5 Z M813.3,301.1 L819.9,298.6 L829.4,300.1 L822.9,302.7 Z M831.4,301.8 L834.4,300.8 L837.4,301.3 L834.4,302.2 Z M656.7,305.9 L664.4,303.5 L675.0,304.9 L667.4,307.4 Z M676.4,306.5 L679.4,305.5 L682.4,306.0 L679.4,306.9 Z M686.1,306.3 L692.1,303.1 L701.2,305.3 L695.1,308.5 Z M705.3,305.0 L708.3,304.0 L711.3,304.5 L708.3,305.4 Z M713.2,306.5 L722.6,303.4 L735.0,305.5 L725.6,308.6 Z M735.1,305.5 L738.1,304.5 L741.1,305.0 L738.1,305.9 Z M744.7,306.1 L752.6,303.1 L763.4,305.1 L755.6,308.2 Z M766.8,307.1 L769.8,306.1 L772.8,306.6 L769.8,307.5 Z M773.1,306.5 L781.9,303.4 L793.7,305.5 L784.9,308.6 Z M795.0,306.0 L798.0,305.0 L801.0,305.5 L798.0,306.4 Z M801.5,306.1 L807.6,303.4 L816.7,305.1 L810.6,307.7 Z M645.1,311.8 L654.4,308.7 L666.6,310.8 L657.4,313.8 Z M666.2,310.9 L669.2,309.9 L672.2,310.4 L669.2,311.3 Z M675.6,311.7 L682.4,309.0 L692.1,310.7 L685.4,313.4 Z M704.2,310.9 L712.5,308.0 L723.8,309.9 L715.5,312.8 Z M734.5,311.3 L743.2,308.4 L754.9,310.3 L746.2,313.1 Z M757.4,310.7 L760.4,309.7 L763.4,310.2 L760.4,311.1 Z M762.4,311.2 L771.8,308.7 L784.2,310.2 L774.8,312.7 Z M793.9,311.0 L800.5,308.6 L810.1,310.0 L803.5,312.3 Z M823.3,311.8 L829.8,308.9 L839.3,310.8 L832.8,313.7 Z" fill="#fdfefc" clip-path="url(#pc)"/>
<path d="M674.4,328.6 L680.6,328.6 L680.6,346 L674.4,346 Z" class="p" stroke-width="1.40"/>
<path d="M674.4,335 L680.6,335 L680.6,346 L674.4,346 Z" class="b" />
<path d="M671,320.6 L673.6,318.6 L681.2,318.6 L684,320.6 L684.4,326.4 L682.4,329.2 L672.6,329.2 L670.6,326.4 Z" class="p" stroke-width="1.70"/>
<path d="M674.8,319 L674.8,329 M680.4,319 L680.4,329" class="n" stroke-width="1.00"/>
<path d="M670.6,348.6 L673.4,346.2 L681.6,346.2 L684.4,348.6 L684.6,352.6 L681.8,355.2 L673.2,355.2 L670.4,352.6 Z" class="b" />
<path d="M674.4,350.2 L680.6,350.2 L680.6,353.2 L674.4,353.2 Z" class="p" stroke-width="0.80"/>
<path d="M736.2,356.8 L740.8,356.8 L740.8,367.4 L736.2,367.4 Z" class="b" />
<path d="M733.8,351.6 L735.6,350 L741.4,350 L743.2,351.6 L743.4,355.6 L741.6,357.4 L735.4,357.4 L733.6,355.6 Z" class="p" stroke-width="1.60"/>
<path d="M839.85,299.83 A6.3,4.5 0 1 1 842.6,298.3" class="n" stroke-width="3.00"/>
<path d="M839.8,299.8 L839.4,297.4" class="n" stroke-width="1.40"/>
<path d="M835.2,262.6 L843.8,262.6 L843.8,284.6 C842,286.4 837,286.4 835.2,284.6 Z" class="p" stroke-width="1.50"/>
<path d="M835.2,268 L843.8,268 M835.2,271 L843.8,271 M835.2,274 L843.8,274 M835.2,277 L843.8,277 M835.2,280 L843.8,280 M835.2,283 L843.8,283" class="n" stroke-width="1.20"/>
<path d="M830.4,251.6 L834,248.6 L845,248.6 L848.6,251.6 L849,259.6 L846,263 L833,263 L830,259.6 Z" class="p" stroke-width="1.70"/>
<path d="M835,249 L835,262.8 M844,249 L844,262.8" class="n" stroke-width="1.10"/>
<g transform="translate(0.5,1.6) rotate(24 850 372)">
<path d="M836,368.6 L849,368.6 L849,376 L836,376 C834,374.5 834,370 836,368.6 Z" class="p" stroke-width="1.50"/>
<path d="M849,366 L862,366 L865,369 L865,376 L862,379 L849,379 Z" class="p" stroke-width="1.60"/>
<path d="M849,370.5 L865,370.5" class="n" stroke-width="1.00"/>
<ellipse cx="853" cy="374.6" rx="2" ry="2" class="p" stroke-width="1.20"/>
</g>
<path d="M871.3,361.4 L877.1,361.6 L880.1,365.6 L879.5,370 L875.7,372 L871.1,370.6 Z" class="b" />
<ellipse cx="872.5" cy="365.8" rx="3.3" ry="4.3" class="p" transform="rotate(-15 872.5 365.8)" stroke-width="1.50"/>
<g transform="rotate(28 891.5 376.4)">
<path d="M881.5,374.5 L889.5,374.5 L889.5,378.29999999999995 L881.5,378.29999999999995 Z" class="b" />
<path d="M889.1,373.0 L893.1,372.4 L895.5,376.4 L893.1,380.4 L889.1,379.79999999999995 Z" class="p" stroke-width="1.50"/>
</g>
<path d="M830,383 L835,380 L840.5,382 L842.6,388 L840.6,394 L835.6,396.4 L830.6,393.4 L828.8,388 Z" class="p" stroke-width="2.50"/>
<ellipse cx="836" cy="388.6" rx="2.6" ry="3.6" class="p" transform="rotate(-20 836 388.6)" stroke-width="1.80"/>
<path d="M835,380.2 L834,385 M830.6,393.2 L833.6,391.6 M842.4,388 L839,388.4" class="n" stroke-width="1.00"/>
<ellipse cx="820.5" cy="396.6" rx="5.6" ry="7.6" class="p" transform="rotate(-25 820.5 396.6)" stroke-width="2.40"/>
<ellipse cx="821.2" cy="397" rx="2.8" ry="4.2" class="p" transform="rotate(-25 821.2 397)" stroke-width="1.90"/>
<path d="M714.6,385.9 C718,384.5 720,381 723.5,379.8 C726,379 727.5,376.5 729.2,375.4 L748.6,366.5 C752,366.2 755,369.5 758.5,370 C761,370.4 763,372 764,373.8 L762.4,378.4 C758,380.5 752,380 748,383.4 C742,387.5 736,389.5 731.6,394 L727.6,394 C724,391.5 718.5,389 714.6,385.9 Z" class="p" stroke-width="1.60"/>
<path d="M716.5,385.4 C720.5,388 724.5,390 727.8,392.2 L731,392.2 C736,388 741.5,386 747.4,382 C751.5,378.6 757.5,379 762.6,376.6" class="n" stroke-width="1.00"/>
<ellipse cx="738.9" cy="379.4" rx="2.3" ry="1.8" class="b" />
<ellipse cx="751" cy="373" rx="2.3" ry="1.8" class="b" />
<path d="M725.9,402.1 L754.3,387.6 L768.9,394.8 L769.7,411.9 L765,412.2 L764.6,406.5 C763.5,402.5 760,401 757,403 C756,404 756.4,405.5 757.6,406.2 L757.6,409 L754.2,408.6 L754.2,399.6 L738.6,409.4 L736.5,409.2 Z" class="p" stroke-width="1.60"/>
<path d="M736.5,407.8 L766.8,393.8 L767.6,411" class="n" stroke-width="1.10"/>
<ellipse cx="738.1" cy="400.2" rx="2.4" ry="1.8" class="b" />
<ellipse cx="751" cy="394.4" rx="2.4" ry="1.8" class="b" />
<ellipse cx="738.2" cy="412.8" rx="4.4" ry="3.4" class="p" stroke-width="3.00"/>
<line x1="738.4" y1="416.5" x2="738.6" y2="419" stroke="#111" stroke-width="1.6" stroke-linecap="round" />
<path d="M732.4,420.6 L735.4,418.4 L742.4,418.4 L745.4,420.6 L745.6,424.6 L742.6,427 L735.2,427 L732.2,424.6 Z" class="p" stroke-width="1.80"/>
<ellipse cx="738.9" cy="422.8" rx="3.4" ry="2.2" class="p" stroke-width="1.20"/>
<line x1="771" y1="422.6" x2="811.8" y2="401.4" stroke="#111" stroke-width="3" stroke-linecap="round" />
<g transform="rotate(-27.5 755 430.5)">
<path d="M762,427.6 L774,428.6 L774,432.4 L762,433.4 Z" class="b" />
<path d="M744,427.4 L749,427.4 L749,433.6 L744,433.6 Z" class="p" stroke-width="1.40"/>
<path d="M749,424.6 L756,424.6 L756,436.4 L749,436.4 Z" class="p" stroke-width="1.70"/>
<path d="M756,425.6 L762,425.6 L762,435.4 L756,435.4 Z" class="p" stroke-width="1.70"/>
<path d="M749,428.4 L756,428.4 M749,432.6 L756,432.6 M756,429 L762,429 M756,432.4 L762,432.4" class="n" stroke-width="0.90"/>
</g>
<line x1="708.6" y1="453.6" x2="710.6" y2="457.8" stroke="#111" stroke-width="2.2" stroke-linecap="round" />
<line x1="556.2" y1="427.6" x2="557.8" y2="431.8" stroke="#111" stroke-width="2.2" stroke-linecap="round" />
<line x1="590" y1="278.6" x2="617.8" y2="262.9" stroke="#111" stroke-width="3" stroke-linecap="round" />
<g transform="rotate(-25 572.4 286.2)">
<path d="M560,283.4 L566,283.4 L566,289 L560,289 Z" class="p" stroke-width="1.40"/>
<path d="M566,279.8 L572.6,279.8 L572.6,292.6 L566,292.6 Z" class="p" stroke-width="1.70"/>
<path d="M572.6,281 L578,281 L578,291.4 L572.6,291.4 Z" class="p" stroke-width="1.70"/>
<path d="M566,284 L572.6,284 M566,288.4 L572.6,288.4 M572.6,284.4 L578,284.4 M572.6,288 L578,288" class="n" stroke-width="0.90"/>
<path d="M578,283.2 L591,284.2 L591,288.2 L578,289.2 Z" class="p" stroke-width="1.30"/>
<path d="M581,283.6 L581,289 M583.4,283.8 L583.4,288.8 M585.8,284 L585.8,288.6 M588.2,284 L588.2,288.4" class="n" stroke-width="1.30"/>
</g>
<line x1="534.4" y1="307.6" x2="536.2" y2="311.6" stroke="#111" stroke-width="2.2" stroke-linecap="round" />
<g transform="rotate(-27 431 284)">
<path d="M404.5,279.8 L457,279.8 L457,288.2 L404.5,288.2 Z" class="p" stroke-width="1.60"/>
<path d="M393.5,281.8 L404.5,281.8 L404.5,286.4 L393.5,286.4 Z" class="p" stroke-width="1.50"/>
</g>
<path d="M472,253.4 L478,250 C480.5,248.6 481.5,247.6 481.9,245.6 C482.3,243.2 483,241.6 483.7,240.7 L490.8,260.3 C488,260 485,261 482,262.6 L478.4,264.3 Z" class="p" stroke-width="1.60"/>
<path d="M481.9,245.6 C482.3,243.2 483,241.6 483.7,240.7 C485.4,239.4 487.6,239 490,239.4 C495,240.4 498.8,243.6 500.7,247.8 C502,250.6 502.2,253.4 501.6,255.9 C500.8,258.6 499.2,260.2 497.1,260.8 C495,261.2 492.8,261 490.8,260.3" class="n" stroke-width="1.80"/>
<path d="M487.3,242.2 C491.5,243 495.3,245.6 497.1,248.7 C498.7,251.6 499,254.6 498.4,256.8" class="n" stroke-width="1.20"/>
<path d="M488.2,245.2 C491,246.6 493.2,248.8 494.4,251.4 C495.3,253.4 495.3,255.2 494.9,256.8" class="n" stroke-width="1.10"/>
<ellipse cx="471.2" cy="260.4" rx="4.6" ry="9.2" class="p" transform="rotate(-27 471.2 260.4)" stroke-width="2.40"/>
<ellipse cx="469.4" cy="261.4" rx="3.6" ry="8" class="n" transform="rotate(-27 469.4 261.4)" stroke-width="1.20"/>
<path d="M455.4,262 L459.4,256.6 L464.6,256.8 L467.6,262.4 L468,270 L464.4,276.4 L459,277.2 L455.6,272 Z" class="p" stroke-width="2.20"/>
<path d="M459.4,256.8 L460.4,264 L459.2,277 M464.6,257 L464.6,265.6 L464.4,276.2" class="n" stroke-width="1.10"/>
<path d="M453,264 L456.4,262.4 L456.8,272.6 L453.6,273.4 Z" class="b" />
<line x1="391.4" y1="355.6" x2="395.6" y2="354.4" stroke="#111" stroke-width="2" stroke-linecap="round" />
<path d="M380.2,412 C385.5,413.5 390,418 390.7,423.5 C391.3,428.5 389.5,432.8 385.9,434.8" class="n" stroke-width="2.60"/>
<path d="M381.5,434.6 C384,436.2 387.4,436 389.6,434" class="n" stroke-width="1.60"/>
<path d="M375.4,401.6 L374.5,420" class="n" stroke-width="2.00"/>
<path d="M373.6,405.6 L375.4,400.6 L377.4,405.6 Z" class="b" />
<path d="M376.6,409.6 L377.8,416.5 L376,419.6" class="n" stroke-width="1.20"/>
<path d="M390.5,414.4 L396.2,411.6 L399.6,418.6 L393.6,421.8 Z" class="p" stroke-width="1.30"/>
<line x1="296.8" y1="394.6" x2="298.8" y2="399.2" stroke="#111" stroke-width="2.2" stroke-linecap="round" />
<line x1="303.4" y1="409.4" x2="305.4" y2="414" stroke="#111" stroke-width="2.2" stroke-linecap="round" />
<line x1="346.2" y1="407.6" x2="348.4" y2="412.6" stroke="#111" stroke-width="1.4" stroke-linecap="round" />
<line x1="336.6" y1="482.2" x2="338.8" y2="486.6" stroke="#111" stroke-width="2.2" stroke-linecap="round" />
<circle cx="958.4" cy="8.5" r="1.4" fill="#555"/>
<rect x="960.3" y="5.2" width="3.2" height="2.4" fill="#666"/>
<rect x="966" y="7.2" width="8" height="2.8" rx="1" fill="#555"/>
</g>
<g id="leaders" class="l">
<polyline points="42,402.5 43,472"/>
<polyline points="104.3,368.5 108.3,462"/>
<polyline points="156.4,335.5 132.9,433"/>
<polyline points="240,297 267.5,409"/>
<polyline points="312,260.5 441.7,274.8"/>
<polyline points="385,220 432.6,215.6"/>
<polyline points="385,164.5 460.6,195.3"/>
<polyline points="384.6,107.5 467.6,137"/>
<polyline points="384.6,51.3 461.6,83.1"/>
<polyline points="482,50 527,142"/>
<polyline points="538.6,51 541.5,128.6"/>
<polyline points="585.9,51.2 557,100.7"/>
<polyline points="646.7,51.7 586.7,119.8"/>
<polyline points="673,66.4 637.4,142.5"/>
<polyline points="704,85.9 650,152.6"/>
<polyline points="733.5,103.8 662,184"/>
<polyline points="764.7,123.2 688,163 675.8,191.3"/>
<polyline points="793.6,140.3 741,195"/>
<polyline points="573.4,241 620,197"/>
<polyline points="594.2,255.6 620,228.3"/>
<polyline points="669.5,279 657.5,235"/>
<polyline points="718.3,279 710.9,239"/>
<polyline points="766.4,279 753.5,214"/>
<polyline points="913.8,251.6 849.4,256.5"/>
<polyline points="913.8,289.3 845.7,294"/>
<polyline points="913.8,325 854.2,329.8"/>
<polyline points="913,360 878.7,362.6"/>
<polyline points="912.7,408 894.3,379"/>
<polyline points="912.7,458.5 861.7,382.5"/>
<polyline points="634,324.8 671.8,322.4"/>
<polyline points="634,353.5 670.6,349.9"/>
<polyline points="634.8,379 735,368.3"/>
<polyline points="634.8,404.4 728.3,403"/>
<polyline points="635.6,429.2 732.6,413.2"/>
<polyline points="635.6,453.2 734,422.4"/>
<polyline points="60,579.5 166.4,478"/>
<polyline points="115,580 168.5,499.6"/>
<polyline points="163,580 192.6,467.5"/>
<polyline points="214.8,580 228.7,523.7"/>
<polyline points="248,580 245.6,538"/>
<polyline points="297,580 278,415"/>
<polyline points="352.4,580 336.5,425"/>
<polyline points="406.3,580 390,434.8"/>
<polyline points="458.7,580 438,400"/>
</g>
<g id="labels" class="t">
<text x="31" y="401.5">1</text>
<text x="93.6" y="368">2</text>
<text x="155.8" y="335">3</text>
<text x="227.6" y="296">4</text>
<text x="301.2" y="260">5</text>
<text x="374" y="219">6</text>
<text x="374.2" y="164.2">7</text>
<text x="374" y="107.2">8</text>
<text x="373.6" y="51.3">9</text>
<text x="461" y="50.4">10</text>
<text x="518.8" y="50.7">11</text>
<text x="584.6" y="50.4">12</text>
<text x="646" y="50.4">13</text>
<text x="672" y="65.6">14</text>
<text x="703.4" y="85">15</text>
<text x="732.7" y="103.7">16</text>
<text x="764" y="122.4">17</text>
<text x="793" y="139.8">18</text>
<text x="552.6" y="241.2">19</text>
<text x="583.2" y="255">3</text>
<text x="669.7" y="278.5">20</text>
<text x="718.3" y="278.5">21</text>
<text x="766.4" y="278.5">22</text>
<text x="912.4" y="252.1">23</text>
<text x="912.8" y="289.6">24</text>
<text x="913.2" y="325">25</text>
<text x="913.2" y="361">18</text>
<text x="913.2" y="408">22</text>
<text x="913.2" y="458.5">20</text>
<text x="612.1" y="325">26</text>
<text x="612.1" y="353.5">27</text>
<text x="612.1" y="379.5">28</text>
<text x="612.1" y="404">29</text>
<text x="612.9" y="429.5">13</text>
<text x="612.1" y="454">27</text>
<text x="37.8" y="580">18</text>
<text x="92.2" y="580">22</text>
<text x="141.3" y="580">34</text>
<text x="192" y="580">22</text>
<text x="248.6" y="580">18</text>
<text x="297.2" y="580">33</text>
<text x="352.4" y="580">32</text>
<text x="407.1" y="580">31</text>
<text x="457.9" y="580">30</text>
</g>
<g id="wm" style="mix-blend-mode:multiply">
<text class="wt" font-size="175.8" transform="translate(121.9,357.1) skewX(-20.3) scale(1.12,1.0)" stroke="#aeb0ad" stroke-width="24.5" stroke-miterlimit="12">O</text>
<text class="wt" font-size="175.8" transform="translate(121.9,357.1) skewX(-20.3) scale(1.12,1.0)" stroke-width="22.1" stroke-miterlimit="12" style="fill:#fff;stroke:#fff">O</text>
<text class="wt" font-size="184.8" transform="translate(298.7,360.05) skewX(-20.3) scale(1.13,1.0)" stroke="#aeb0ad" stroke-width="13.1" stroke-miterlimit="12">P</text>
<text class="wt" font-size="184.8" transform="translate(298.7,360.05) skewX(-20.3) scale(1.13,1.0)" stroke-width="10.7" stroke-miterlimit="12" style="fill:#fff;stroke:#fff">P</text>
<text class="wt" font-size="178" transform="translate(460.5,357.55) skewX(-20.3) scale(1.05,1.0)" stroke="#aeb0ad" stroke-width="18.1" stroke-miterlimit="12">E</text>
<text class="wt" font-size="178" transform="translate(460.5,357.55) skewX(-20.3) scale(1.05,1.0)" stroke-width="15.7" stroke-miterlimit="12" style="fill:#fff;stroke:#fff">E</text>
<text class="wt" font-size="170" transform="translate(597.5,354.7) skewX(-20.3) scale(1.04,1.0)" stroke="#aeb0ad" stroke-width="23.8" stroke-miterlimit="12">X</text>
<text class="wt" font-size="170" transform="translate(597.5,354.7) skewX(-20.3) scale(1.04,1.0)" stroke-width="21.4" stroke-miterlimit="12" style="fill:#fff;stroke:#fff">X</text>
<path d="M171,154 L339,154 L363.6,134.6 L391,150 L404.7,137.5 L400.6,112 L441.4,95.8 L456.3,122.4 L477,122.4 L480.3,88 L527.6,88.2 L529.4,123.5 L548.6,124 L564.8,98.8 L608.3,115 L603.5,140 L614.3,150.8 L638,139 L660,153.8 L866,153.8 C880,153.8 891,160 887,173 L799.5,407 C794,422 783,431.8 765,431.8 L662.7,431.9 L638.3,445.8 L610.4,434.3 L601.6,442.4 L606.9,471 L565,487.7 L548.2,462.3 L529.4,462.3 L524.9,498.2 L481.2,498.9 L474.2,463.3 L455,464 L442.1,491.2 L400.9,473.8 L404.5,448.5 L390,436 L361.6,450.2 L336.5,431.6 L74,431.8 C60,431.8 49,424 54,408 L137.5,181 C143,165 155,154 171,154 Z" class="w"/>
</g>
</svg>
</body></html>
